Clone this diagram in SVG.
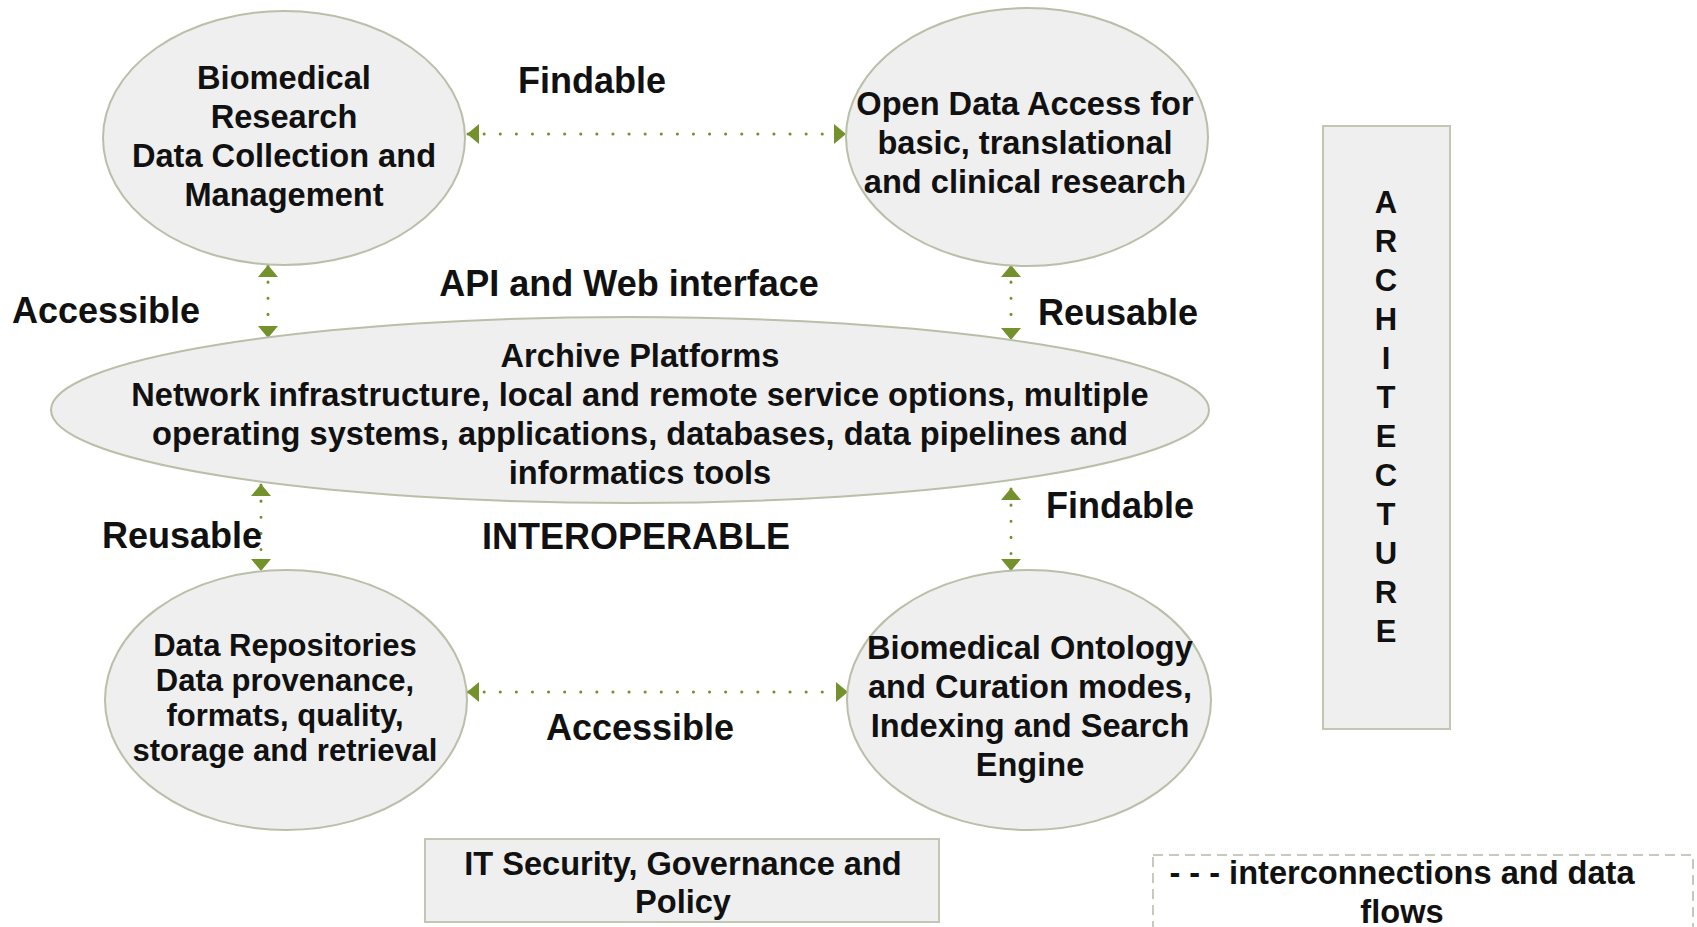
<svg xmlns="http://www.w3.org/2000/svg" width="1697" height="927" viewBox="0 0 1697 927">
<defs>
<marker id="ah" viewBox="0 0 12 20" refX="11" refY="10" markerWidth="12" markerHeight="20" markerUnits="userSpaceOnUse" orient="auto-start-reverse">
<path d="M0,0 L12,10 L0,20 Z" fill="#74922c"/>
</marker>
</defs>
<style>
.node{fill:#efefef;stroke:#b9bfa8;stroke-width:2}
.t{font-family:"Liberation Sans",Arial,sans-serif;font-weight:bold;font-size:32.6px;fill:#111;text-anchor:middle}
.s{font-family:"Liberation Sans",Arial,sans-serif;font-weight:bold;font-size:31px;fill:#111;text-anchor:middle}
.a{font-family:"Liberation Sans",Arial,sans-serif;font-weight:bold;font-size:31px;fill:#111;text-anchor:middle}
.lbl{font-family:"Liberation Sans",Arial,sans-serif;font-weight:bold;font-size:36px;fill:#111;text-anchor:middle}
.c{fill:none;stroke:#74922c;stroke-width:3;stroke-dasharray:0.1 16;stroke-linecap:round;marker-start:url(#ah);marker-end:url(#ah)}
</style>
<rect width="1697" height="927" fill="#ffffff"/>
<g id="connectors">
<line class="c" x1="468" y1="134" x2="845" y2="134"/>
<line class="c" x1="268" y1="266" x2="268" y2="337"/>
<line class="c" x1="1011" y1="266" x2="1011" y2="339"/>
<line class="c" x1="261" y1="485" x2="261" y2="570"/>
<line class="c" x1="1011" y1="489" x2="1011" y2="570"/>
<line class="c" x1="468" y1="692" x2="847" y2="692"/>
</g>
<g id="n-biomed">
<ellipse class="node" cx="284" cy="138" rx="181" ry="127"/>
<text class="t" x="284" y="89">Biomedical</text>
<text class="t" x="284" y="128">Research</text>
<text class="t" x="284" y="167">Data Collection and</text>
<text class="t" x="284" y="206">Management</text>
</g>
<g id="n-open">
<ellipse class="node" cx="1027" cy="137" rx="181" ry="129"/>
<text class="t" x="1025" y="115">Open Data Access for</text>
<text class="t" x="1025" y="154">basic, translational</text>
<text class="t" x="1025" y="193">and clinical research</text>
</g>
<g id="n-archive">
<ellipse class="node" cx="630" cy="410" rx="579" ry="93"/>
<text class="t" x="640" y="367">Archive Platforms</text>
<text class="t" x="640" y="406">Network infrastructure, local and remote service options, multiple</text>
<text class="t" x="640" y="445">operating systems, applications, databases, data pipelines and</text>
<text class="t" x="640" y="484">informatics tools</text>
</g>
<g id="n-repo">
<ellipse class="node" cx="286" cy="700" rx="181" ry="130"/>
<text class="s" x="285" y="656">Data Repositories</text>
<text class="s" x="285" y="691">Data provenance,</text>
<text class="s" x="285" y="726">formats, quality,</text>
<text class="s" x="285" y="761">storage and retrieval</text>
</g>
<g id="n-onto">
<ellipse class="node" cx="1029" cy="700" rx="182" ry="130"/>
<text class="t" x="1030" y="659">Biomedical Ontology</text>
<text class="t" x="1030" y="698">and Curation modes,</text>
<text class="t" x="1030" y="737">Indexing and Search</text>
<text class="t" x="1030" y="776">Engine</text>
</g>
<g id="n-arch">
<rect x="1323" y="126" width="127" height="603" fill="#efefef" stroke="#c2c7b4" stroke-width="2"/>
<text class="a" x="1386" y="213">A</text>
<text class="a" x="1386" y="252">R</text>
<text class="a" x="1386" y="291">C</text>
<text class="a" x="1386" y="330">H</text>
<text class="a" x="1386" y="369">I</text>
<text class="a" x="1386" y="408">T</text>
<text class="a" x="1386" y="447">E</text>
<text class="a" x="1386" y="486">C</text>
<text class="a" x="1386" y="525">T</text>
<text class="a" x="1386" y="564">U</text>
<text class="a" x="1386" y="603">R</text>
<text class="a" x="1386" y="642">E</text>
</g>
<g id="n-security">
<rect x="425" y="839" width="514" height="83" fill="#efefef" stroke="#c2c7b4" stroke-width="2"/>
<text class="t" x="683" y="875">IT Security, Governance and</text>
<text class="t" x="683" y="913">Policy</text>
</g>
<g id="n-legend">
<rect x="1153" y="855" width="540" height="90" fill="none" stroke="#c8c9bd" stroke-width="2" stroke-dasharray="10 6"/>
<text class="t" x="1402" y="884">- - - interconnections and data</text>
<text class="t" x="1402" y="923">flows</text>
</g>
<g id="labels">
<text class="lbl" x="106" y="323">Accessible</text>
<text class="lbl" x="592" y="93">Findable</text>
<text class="lbl" x="629" y="296">API and Web interface</text>
<text class="lbl" x="1118" y="325">Reusable</text>
<text class="lbl" x="182" y="548">Reusable</text>
<text class="lbl" x="636" y="549">INTEROPERABLE</text>
<text class="lbl" x="1120" y="518">Findable</text>
<text class="lbl" x="640" y="740">Accessible</text>
</g>
</svg>
